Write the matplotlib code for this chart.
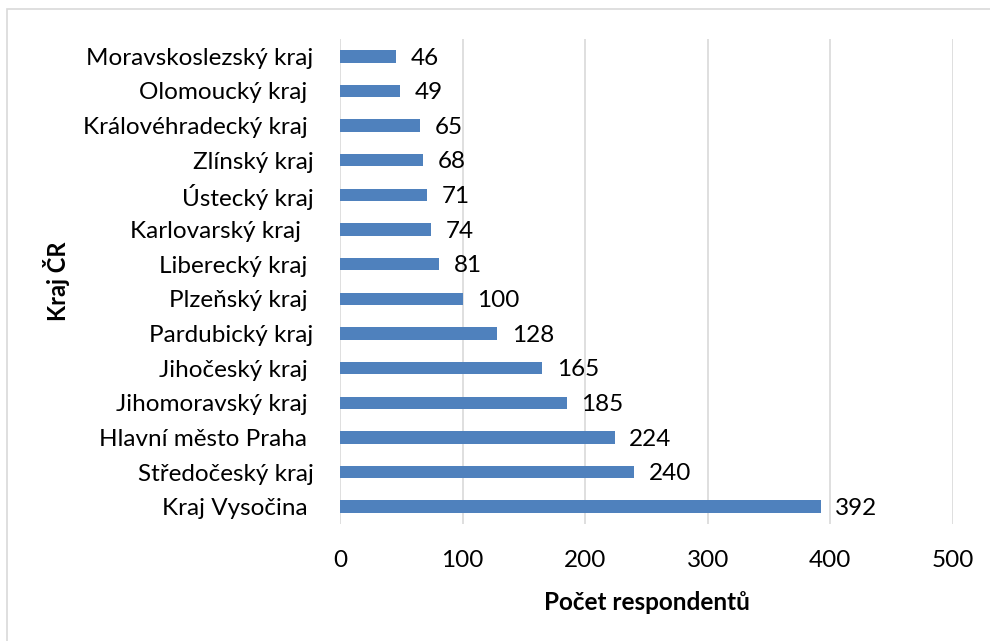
import matplotlib.pyplot as plt
from matplotlib.patches import Rectangle

plt.rcParams['font.family'] = ['Lato', 'DejaVu Sans']

regions = ['Moravskoslezský kraj', 'Olomoucký kraj ', 'Královéhradecký kraj ', 'Zlínský kraj',
           'Ústecký kraj', 'Karlovarský kraj  ', 'Liberecký kraj ', 'Plzeňský kraj ',
           'Pardubický kraj', 'Jihočeský kraj ', 'Jihomoravský kraj ', 'Hlavní město Praha ',
           'Středočeský kraj', 'Kraj Vysočina ']
counts = [46, 49, 65, 68, 71, 74, 81, 100, 128, 165, 185, 224, 240, 392]
xticks = [0, 100, 200, 300, 400, 500]

fig = plt.figure(figsize=(9.9, 6.41), dpi=100)
ax = fig.add_axes([340 / 990, 1 - 524 / 641, 613 / 990, 485 / 641])

# chart border (only top and left visible)
fig.patches.append(Rectangle((7 / 990, -0.1), 1.2, 1 - 9 / 641 + 0.1, transform=fig.transFigure,
                             fill=False, edgecolor='#d9d9d9', linewidth=1.2))

pos = list(range(len(regions)))
ax.barh(pos, counts, height=0.36, color='#4f81bd', zorder=3)
for p, v in zip(pos, counts):
    ax.text(v + 12, p + 0.05, str(v), va='center', ha='left', fontsize=17.5, color='black')

ax.set_ylim(len(regions) - 0.5, -0.5)
ax.set_xlim(0, 500)
ax.set_yticks(pos)
ax.set_yticklabels(regions, fontsize=17.5)
ax.set_xticks(xticks)
ax.set_xticklabels([str(t) for t in xticks], fontsize=17.5)
ax.tick_params(length=0)
ax.tick_params(axis='x', pad=19)
ax.tick_params(axis='y', pad=19)
ax.grid(axis='x', color='#d9d9d9', linewidth=1.2, zorder=0)
for s in ax.spines.values():
    s.set_visible(False)

ax.set_xlabel('Počet respondentů', fontsize=17.5, fontweight='bold', labelpad=14)
ax.set_ylabel('Kraj ČR', fontsize=17, fontweight='bold', labelpad=9)

fig.savefig('out.png', dpi=100)
